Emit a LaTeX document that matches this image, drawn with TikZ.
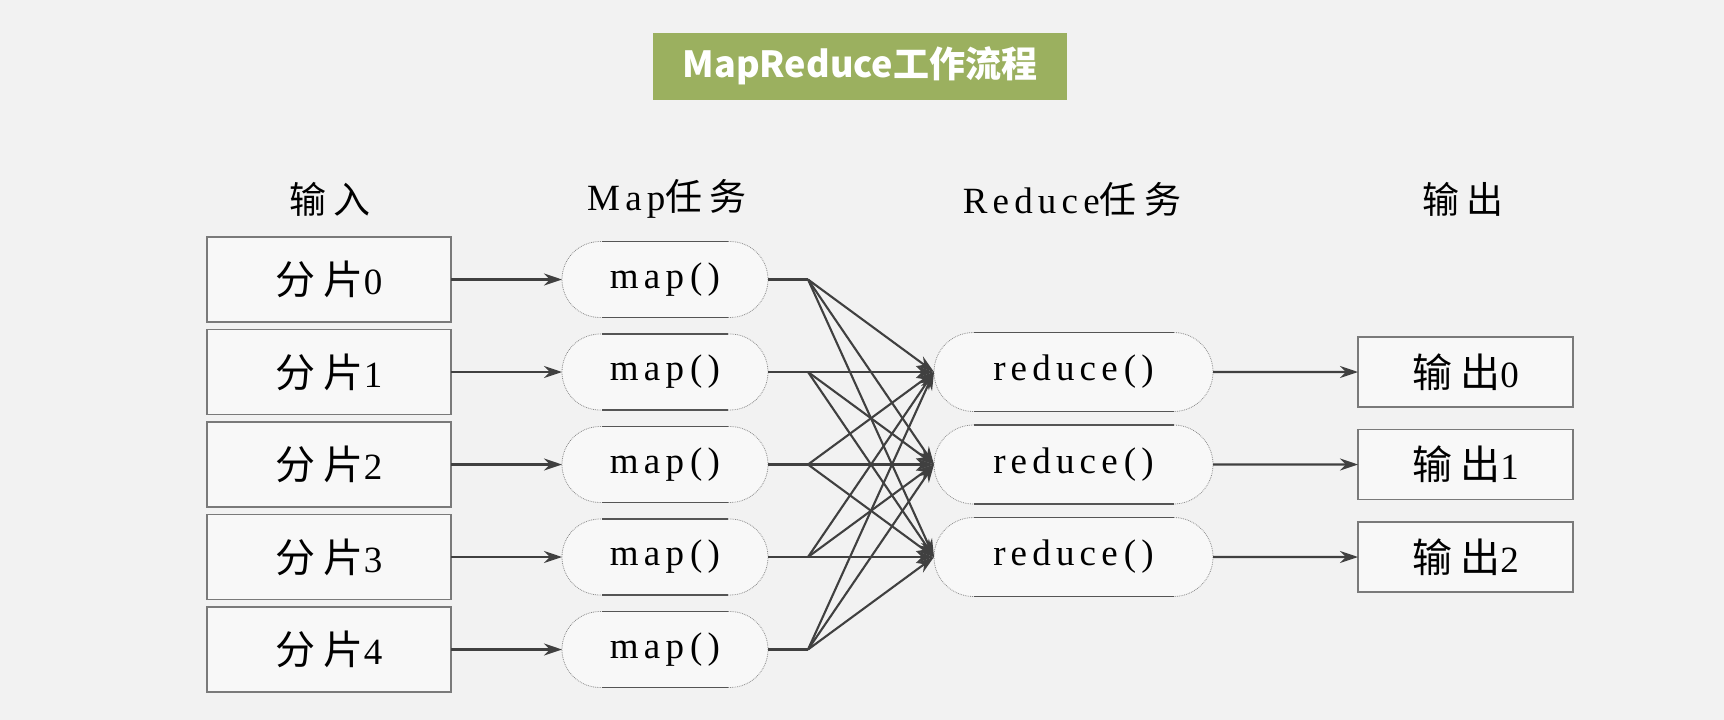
\documentclass[tikz,border=0pt]{standalone}
\usepackage{fontspec}
\setmainfont{Liberation Serif}
\newfontfamily\cjk[LetterSpace=20]{Noto Sans CJK SC}
\newfontfamily\cjktitle{Noto Sans CJK SC}
\newfontfamily\lat[LetterSpace=14]{Liberation Serif}
\usetikzlibrary{shapes.misc,arrows.meta,calc}
\definecolor{bg}{HTML}{F2F2F2}
\definecolor{titlegreen}{HTML}{9BB05F}
\definecolor{boxfill}{HTML}{F8F8F8}
\definecolor{boxline}{HTML}{7A7A7A}
\definecolor{ovline}{HTML}{8A8A8A}
\definecolor{edgecol}{HTML}{555555}
\definecolor{arrcol}{HTML}{404040}
\newcommand\boxfont{\fontsize{37}{42}\selectfont}
\newcommand\bigcjk[1]{{\fontsize{40}{44}\selectfont\cjk #1}}
\newcommand\hdcjk[1]{{\fontsize{37}{42}\selectfont\cjk #1}}
\begin{document}
\begin{tikzpicture}[x=1pt,y=-1pt,
  every node/.style={inner sep=0pt, outer sep=0pt},
  inbox/.style={draw=boxline, fill=boxfill, line width=1.3pt, minimum width=244pt, minimum height=85pt, font=\boxfont},
  outbox/.style={inbox, minimum width=215pt, minimum height=70pt},
  mapnode/.style={rounded rectangle, draw=ovline, densely dotted, line width=0.8pt, fill=boxfill, minimum width=206pt, minimum height=76pt, font=\boxfont},
  rednode/.style={mapnode, minimum width=279pt, minimum height=79pt},
  solidedge/.style={draw=edgecol, line width=1.4pt},
  arr/.style={draw=arrcol, line width=2.1pt, -{Stealth[length=18pt,width=12pt]}},
  ln/.style={draw=arrcol, line width=2.1pt},
  header/.style={font=\boxfont},
]
\fill[bg] (0,0) rectangle (1724,720);
\useasboundingbox (0,0) rectangle (1724,720);

% title
\node[fill=titlegreen, minimum width=414pt, minimum height=67pt, text=white, font=\cjktitle\bfseries\fontsize{36}{40}\selectfont] (title) at (860,66) {MapReduce工作流程};

% headers
\node[header] (hin) at (330,199) {\hdcjk{输入}};
\node[header] (hmap) at (667,199) {{\lat Map}\hdcjk{任务}};
\node[header] (hred) at (1072,199) {{\lat Reduce}\hdcjk{任务}};
\node[header] (hout) at (1463,199) {\hdcjk{输出}};

% input boxes and maps
\foreach \i/\y in {0/279.5,1/372,2/464.5,3/557,4/649.5}{
  \node[inbox] (in\i) at (329,\y) {\bigcjk{分片}{\lat \i}};
  \node[mapnode] (m\i) at (665,\y) {{\lat map\,()}};
  \draw[solidedge] ([xshift=-63pt]m\i.north) -- ([xshift=63pt]m\i.north);
  \draw[solidedge] ([xshift=-63pt]m\i.south) -- ([xshift=63pt]m\i.south);
  \draw[arr] (in\i) -- (m\i);
}

% reduce and outputs
\foreach \j/\y in {0/372,1/464.5,2/557}{
  \node[rednode] (r\j) at (1073.5,\y) {{\lat reduce\,()}};
  \draw[solidedge] ([xshift=-100pt]r\j.north) -- ([xshift=100pt]r\j.north);
  \draw[solidedge] ([xshift=-100pt]r\j.south) -- ([xshift=100pt]r\j.south);
  \node[outbox] (o\j) at (1465.5,\y) {\bigcjk{输出}{\lat \j}};
  \draw[arr] (r\j) -- (o\j);
}

% shuffle
\foreach \i in {0,...,4}{
  \draw[ln] (m\i.east) -- (808,0 |- m\i.east) coordinate (f\i);
  \foreach \j in {0,1,2}{
    \draw[arr] (f\i) -- (r\j.west);
  }
}
\end{tikzpicture}
\end{document}
